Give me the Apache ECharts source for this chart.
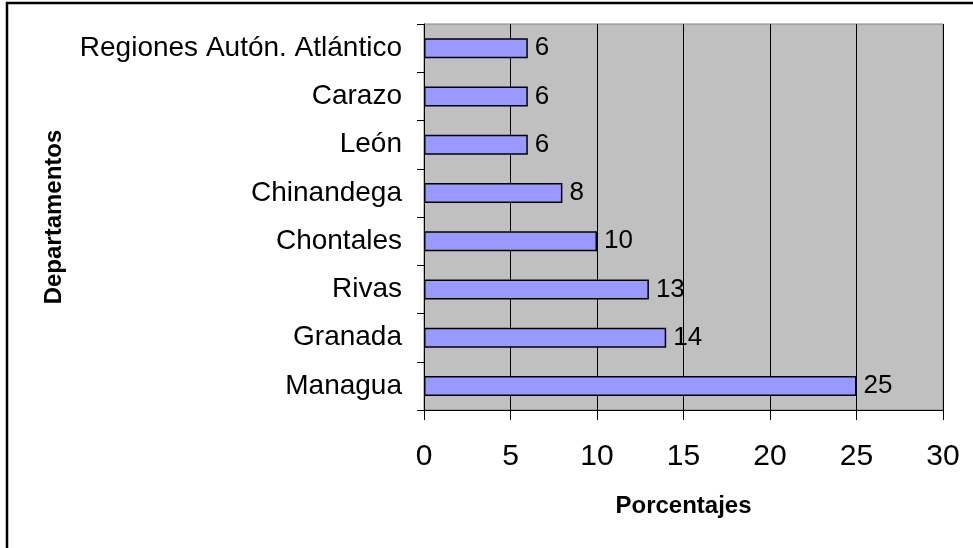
<!DOCTYPE html>
<html>
<head>
<meta charset="utf-8">
<script src="https://cdn.jsdelivr.net/npm/echarts@6/dist/echarts.min.js"></script>
<style>
  html, body { margin: 0; padding: 0; background: #fff; }
  #chart { width: 973px; height: 548px; }
</style>
</head>
<body>
<div id="chart"></div>
<script>
const departamentos = ['Managua', 'Granada', 'Rivas', 'Chontales', 'Chinandega', 'León', 'Carazo', 'Regiones Autón. Atlántico']
const porcentajes = [25, 14, 13, 10, 8, 6, 6, 6]
const xTicks = [0, 5, 10, 15, 20, 25, 30]

let myChart = echarts.init(document.getElementById('chart'))
myChart.setOption({
  backgroundColor: '#fff',
  animation: false,
  textStyle: { fontFamily: 'Liberation Sans, Arial, sans-serif' },
  grid: {
    left: 424,
    right: 30,
    top: 24,
    bottom: 138,
    show: true,
    backgroundColor: '#C0C0C0',
    borderColor: '#808080',
    borderWidth: 1
  },
  graphic: [{
    type: 'rect',
    shape: { x: 7, y: 3, width: 1200, height: 800 },
    style: { fill: 'none', stroke: '#000', lineWidth: 2.5 },
    silent: true
  }],
  xAxis: {
    type: 'value',
    min: xTicks[0],
    max: xTicks[xTicks.length - 1],
    interval: 5,
    axisLine: { show: true, lineStyle: { color: '#000', width: 1 } },
    axisTick: { show: true, length: 10, lineStyle: { color: '#000' } },
    axisLabel: { color: '#000', fontSize: 30, margin: 32 },
    splitLine: { show: true, lineStyle: { color: '#000', width: 1 } },
    name: 'Porcentajes',
    nameLocation: 'middle',
    nameGap: 84,
    nameTextStyle: { color: '#000', fontWeight: 'bold', fontSize: 24 }
  },
  yAxis: {
    type: 'category',
    data: departamentos,
    axisLine: { show: true, lineStyle: { color: '#000', width: 1 } },
    axisTick: { show: true, length: 7, lineStyle: { color: '#000' } },
    axisLabel: { color: '#000', fontSize: 28, margin: 22 },
    splitLine: { show: false },
    name: 'Departamentos',
    nameLocation: 'middle',
    nameGap: 358,
    nameRotate: 90,
    nameTextStyle: { color: '#000', fontWeight: 'bold', fontSize: 24 }
  },
  series: [{
    type: 'bar',
    data: porcentajes,
    barWidth: 20,
    itemStyle: { color: '#9999FF', borderColor: '#000', borderWidth: 1.5 },
    label: {
      show: true,
      position: 'right',
      distance: 7,
      color: '#000',
      fontSize: 26
    }
  }]
})
</script>
</body>
</html>
